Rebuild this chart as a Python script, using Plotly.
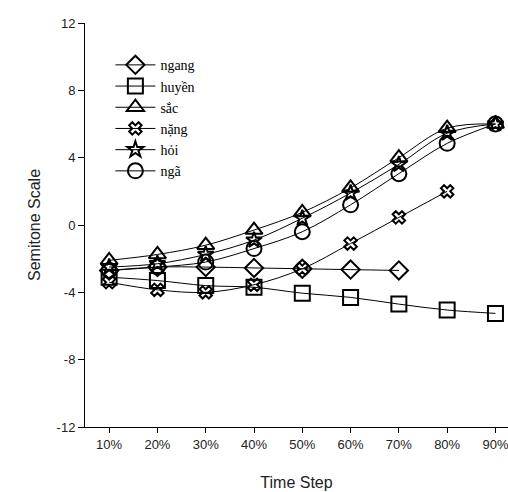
import plotly.graph_objects as go

time_steps = ["10%", "20%", "30%", "40%", "50%", "60%", "70%", "80%", "90%"]
y_ticks = [-12, -8, -4, 0, 4, 8, 12]
y_tick_labels = ["-12", "-8", "-4", "0", "4", "8", "12"]

ngang = [-2.7, -2.5, -2.5, -2.55, -2.6, -2.65, -2.7]
huyen = [-3.1, -3.3, -3.6, -3.7, -4.05, -4.3, -4.7, -5.05, -5.25]
sac = [-2.1, -1.75, -1.2, -0.3, 0.75, 2.2, 4.0, 5.75, 6.0]
nang = [-3.4, -3.85, -4.0, -3.55, -2.6, -1.1, 0.45, 2.0]
hoi = [-2.5, -2.3, -1.75, -0.9, 0.4, 1.9, 3.6, 5.45, 6.0]
nga = [-2.7, -2.5, -2.2, -1.4, -0.4, 1.2, 3.05, 4.85, 6.0]

series = [
    ("ngang", ngang, "diamond-open", 14),
    ("huyền", huyen, "square-open", 15),
    ("sắc", sac, "triangle-up-open", 15),
    ("nặng", nang, "x-open", 11),
    ("hỏi", hoi, "star-open", 12),
    ("ngã", nga, "circle-open", 15),
]

fig = go.Figure()
for name, vals, sym, sz in series:
    fig.add_trace(go.Scatter(
        x=time_steps[:len(vals)], y=vals, name=name,
        mode="lines+markers",
        line=dict(color="black", width=1, shape="spline"),
        marker=dict(symbol=sym, size=sz, color="black",
                    line=dict(color="black", width=2)),
    ))

fig.update_layout(
    width=508, height=492,
    margin=dict(l=85, r=0, t=23, b=65),
    plot_bgcolor="white", paper_bgcolor="white",
    showlegend=True,
    legend=dict(x=0.06, y=0.935, xanchor="left", yanchor="top",
                font=dict(family="Liberation Serif", size=14, color="black"),
                bgcolor="rgba(0,0,0,0)", tracegroupgap=0, itemwidth=40),
    font=dict(family="Liberation Sans", size=13, color="#222"),
)
fig.update_xaxes(
    type="category", categoryorder="array", categoryarray=time_steps,
    range=[-0.5, 8.26],
    showline=True, linecolor="black", linewidth=1,
    ticks="outside", ticklen=5, tickcolor="black",
    showgrid=False, zeroline=False,
    title=dict(text="Time Step", font=dict(size=16, color="#222"), standoff=26),
)
fig.update_yaxes(
    range=[-12, 12], tickvals=y_ticks, ticktext=y_tick_labels,
    showline=True, linecolor="black", linewidth=1,
    ticks="outside", ticklen=6, tickcolor="black",
    showgrid=False, zeroline=False,
    title=dict(text="Semitone Scale", font=dict(size=16, color="#222"), standoff=12),
)

fig.write_html("out.html")
